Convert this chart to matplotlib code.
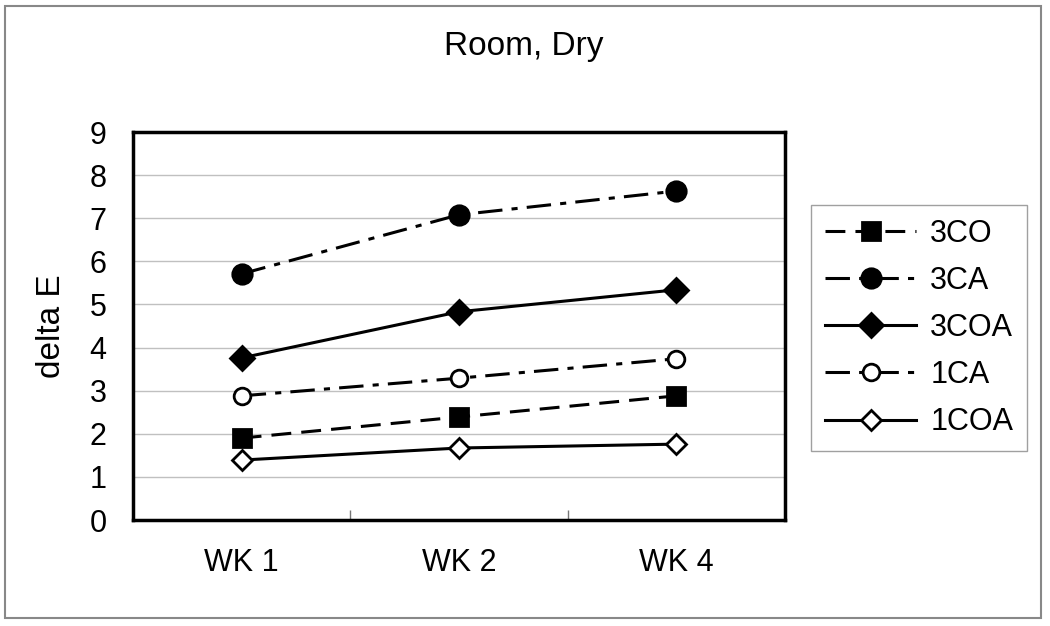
import matplotlib.pyplot as plt
from matplotlib.patches import Rectangle

plt.rcParams['font.family'] = ['Liberation Sans', 'DejaVu Sans']

categories = ["WK 1", "WK 2", "WK 4"]
series_names = ["3CO", "3CA", "3COA", "1CA", "1COA"]
val_3co = [1.90, 2.39, 2.88]
val_3ca = [5.71, 7.08, 7.63]
val_3coa = [3.76, 4.83, 5.34]
val_1ca = [2.88, 3.29, 3.74]
val_1coa = [1.39, 1.67, 1.76]

fig = plt.figure(figsize=(10.5, 6.26), dpi=100)
ax = fig.add_axes([133 / 1050, 1 - 520 / 626, 652 / 1050, 388 / 626])

x = list(range(len(categories)))
lw = 2.2
dash = (0, (6.5, 3.3))
dashdot = (0, (8, 3, 2, 3))

# (values, linestyle, marker, facecolor, markersize)
styles = [
    (val_3co, dash, 's', 'black', 13),
    (val_3ca, dashdot, 'o', 'black', 14),
    (val_3coa, '-', 'D', 'black', 12),
    (val_1ca, dashdot, 'o', 'white', 12),
    (val_1coa, '-', 'D', 'white', 10),
]
for name, (vals, ls, mk, fc, ms) in zip(series_names, styles):
    ax.plot(x, vals, color='black', linestyle=ls, linewidth=lw, marker=mk,
            markerfacecolor=fc, markeredgecolor='black', markeredgewidth=2,
            markersize=ms, label=name, zorder=3)

ax.set_xlim(-0.5, 2.5)
ax.set_ylim(0, 9)
ax.set_yticks(range(10))
ax.set_xticks(x)
ax.set_xticklabels(categories)
ax.set_xticks([0.5, 1.5], minor=True)
ax.tick_params(axis='x', which='major', length=0, pad=20, labelsize=22)
ax.tick_params(axis='x', which='minor', direction='in', length=7, width=1, color='#777777')
ax.tick_params(axis='y', length=0, pad=19, labelsize=22)
ax.grid(axis='y', color='#c0c0c0', linewidth=1, zorder=0)
for sp in ax.spines.values():
    sp.set_linewidth(2.5)
    sp.set_color('black')

fig.text(524 / 1050, 1 - 47 / 626, "Room, Dry", ha='center', va='center', fontsize=24)
fig.text(51 / 1050, 1 - 326 / 626, "delta E", rotation=90, ha='center', va='center', fontsize=24)

leg = ax.legend(loc='upper left', bbox_to_anchor=(811 / 1050, 1 - 205 / 626),
                bbox_transform=fig.transFigure, fontsize=22, frameon=True,
                fancybox=False, handlelength=3.0, labelspacing=0.56,
                handletextpad=0.45, borderpad=0.45, borderaxespad=0)
leg.get_frame().set_edgecolor('#888888')
leg.get_frame().set_linewidth(1)

fig.patches.append(Rectangle((5 / 1050, 8 / 626), 1036 / 1050, 612 / 626,
                             transform=fig.transFigure, fill=False,
                             edgecolor='#888888', linewidth=1.5))

fig.savefig("out.png", dpi=100)
